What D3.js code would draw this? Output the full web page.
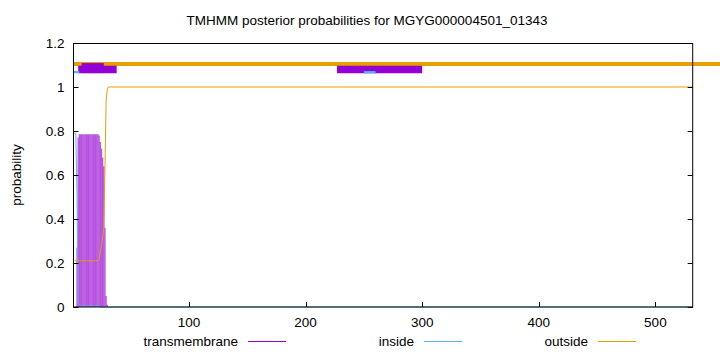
<!DOCTYPE html>
<html>
<head>
<meta charset="utf-8">
<script src="https://cdn.jsdelivr.net/npm/d3@7"></script>
<style>
body { margin: 0; background: #fff; }
text { font-family: "Liberation Sans", Arial, sans-serif; font-size: 13.5px; fill: #000; }
</style>
</head>
<body>
<script>
// DATA

var title = "TMHMM posterior probabilities for MGYG000004501_01343";
var seqRange = [1, 532];

// posterior probabilities per residue (flat after residue 31 up to the end)
var residues      = [1, 2, 3, 4, 5, 6, 7, 8, 9, 10, 11, 12, 13, 14, 15, 16, 17, 18, 19, 20, 21, 22, 23, 24, 25, 26, 27, 28, 29, 30, 31, 532];
var transmembrane = [0, 0, 0, 0.27, 0.77, 0.785, 0.785, 0.785, 0.785, 0.785, 0.785, 0.785, 0.785, 0.785, 0.785, 0.785, 0.785, 0.785, 0.785, 0.785, 0.785, 0.785, 0.78, 0.75, 0.72, 0.68, 0.64, 0.36, 0.05, 0.01, 0, 0];
var inside        = [0.79, 0.79, 0.79, 0.51, 0.02, 0.01, 0.005, 0.005, 0.005, 0.005, 0.005, 0.005, 0.005, 0.005, 0.005, 0.005, 0.005, 0.005, 0.005, 0.005, 0.005, 0.005, 0.005, 0, 0, 0, 0, 0, 0, 0, 0, 0];
var outside       = [0.21, 0.21, 0.21, 0.215, 0.21, 0.21, 0.21, 0.21, 0.21, 0.21, 0.21, 0.21, 0.21, 0.21, 0.21, 0.21, 0.21, 0.21, 0.21, 0.21, 0.21, 0.21, 0.215, 0.25, 0.28, 0.32, 0.36, 0.64, 0.94, 0.99, 1, 1];

// predicted topology bars drawn above the curves: [from, to, level]
var outsideBars = [[1, 570, 1.1045]];
var tmBars      = [[5, 38, 1.0795], [227, 300, 1.0795]];
var tmCoreBars  = [[8, 27, 1.086]];
var insideBars  = [[1, 6, 1.068], [250, 260, 1.067]];

var xTicks = [100, 200, 300, 400, 500];
var yTicks = [0, 0.2, 0.4, 0.6, 0.8, 1, 1.2];
var legendNames = ["transmembrane", "inside", "outside"];

// SETUP

var W = 720, H = 352;
var margin = { top: 43, right: 27.3, bottom: 45, left: 73.5 },
  width = W - margin.left - margin.right,
  height = H - margin.top - margin.bottom;

var colors = { transmembrane: "#9400d3", inside: "#56b4e9", outside: "#e69f00" };

var svg = d3.select("body")
  .append("svg")
  .attr("width", W)
  .attr("height", H);

var x = d3.scaleLinear().domain(seqRange).range([margin.left, margin.left + width]);
var y = d3.scaleLinear().domain([0, 1.2]).range([margin.top + height, margin.top]);

var rows = residues.map(function (r, i) {
  return { r: r, tm: transmembrane[i], inside: inside[i], outside: outside[i] };
});

// title
svg.append("text")
  .attr("x", 367)
  .attr("y", 25)
  .attr("text-anchor", "middle")
  .text(title);

// y label
svg.append("text")
  .attr("transform", "translate(21," + (margin.top + height / 2) + ") rotate(-90)")
  .attr("text-anchor", "middle")
  .text("probability");

// impulses for transmembrane
svg.append("g")
  .selectAll("line")
  .data(rows.filter(function (d) { return d.tm > 0; }))
  .enter().append("line")
  .attr("x1", function (d) { return x(d.r); })
  .attr("x2", function (d) { return x(d.r); })
  .attr("y1", y(0))
  .attr("y2", function (d) { return y(d.tm); })
  .style("stroke", colors.transmembrane)
  .style("stroke-width", 1.3)
  .style("opacity", 0.65);

// inside / outside lines
var line = function (key) {
  return d3.line().x(function (d) { return x(d.r); }).y(function (d) { return y(d[key]); });
};

svg.append("path")
  .datum(rows)
  .attr("d", line("inside"))
  .style("fill", "none")
  .style("stroke", colors.inside)
  .style("stroke-width", 1);

svg.append("path")
  .datum(rows)
  .attr("d", line("outside"))
  .style("fill", "none")
  .style("stroke", colors.outside)
  .style("stroke-width", 1);

// topology bars
function bars(data, color, w) {
  svg.append("g")
    .selectAll("line")
    .data(data)
    .enter().append("line")
    .attr("x1", function (d) { return x(d[0]); })
    .attr("x2", function (d) { return x(d[1]); })
    .attr("y1", function (d) { return y(d[2]); })
    .attr("y2", function (d) { return y(d[2]); })
    .style("stroke", color)
    .style("stroke-width", w);
}
bars(outsideBars, colors.outside, 4);
bars(tmBars, colors.transmembrane, 7.6);
bars(tmCoreBars, colors.transmembrane, 10);
bars(insideBars, colors.inside, 2.4);

// border
svg.append("rect")
  .attr("x", margin.left)
  .attr("y", margin.top + 0.5)
  .attr("width", width)
  .attr("height", height - 0.5)
  .style("fill", "none")
  .style("stroke", "#000")
  .style("stroke-width", 1);

// ticks
var yAxisG = svg.append("g");
yTicks.forEach(function (t) {
  var yy = Math.round(y(t)) + 0.5;
  yAxisG.append("line")
    .attr("x1", margin.left).attr("x2", margin.left + 5)
    .attr("y1", yy).attr("y2", yy)
    .style("stroke", "#000");
  yAxisG.append("line")
    .attr("x1", margin.left + width).attr("x2", margin.left + width - 5)
    .attr("y1", yy).attr("y2", yy)
    .style("stroke", "#000");
  yAxisG.append("text")
    .attr("x", margin.left - 9)
    .attr("y", y(t) + 5)
    .attr("text-anchor", "end")
    .text(d3.format("~g")(t));
});

var xAxisG = svg.append("g");
xTicks.forEach(function (t) {
  var xx = Math.round(x(t)) + 0.5;
  xAxisG.append("line")
    .attr("x1", xx).attr("x2", xx)
    .attr("y1", y(0)).attr("y2", y(0) - 5)
    .style("stroke", "#000");
  xAxisG.append("text")
    .attr("x", x(t))
    .attr("y", 327)
    .attr("text-anchor", "middle")
    .text(t);
});

// legend
var legendX = [238, 414, 588];
legendNames.forEach(function (name, i) {
  svg.append("text")
    .attr("x", legendX[i])
    .attr("y", 346)
    .attr("text-anchor", "end")
    .text(name);
  svg.append("line")
    .attr("x1", legendX[i] + 10).attr("x2", legendX[i] + 48)
    .attr("y1", 341.5).attr("y2", 341.5)
    .style("stroke", colors[name])
    .style("stroke-width", 1);
});
</script>
</body>
</html>
